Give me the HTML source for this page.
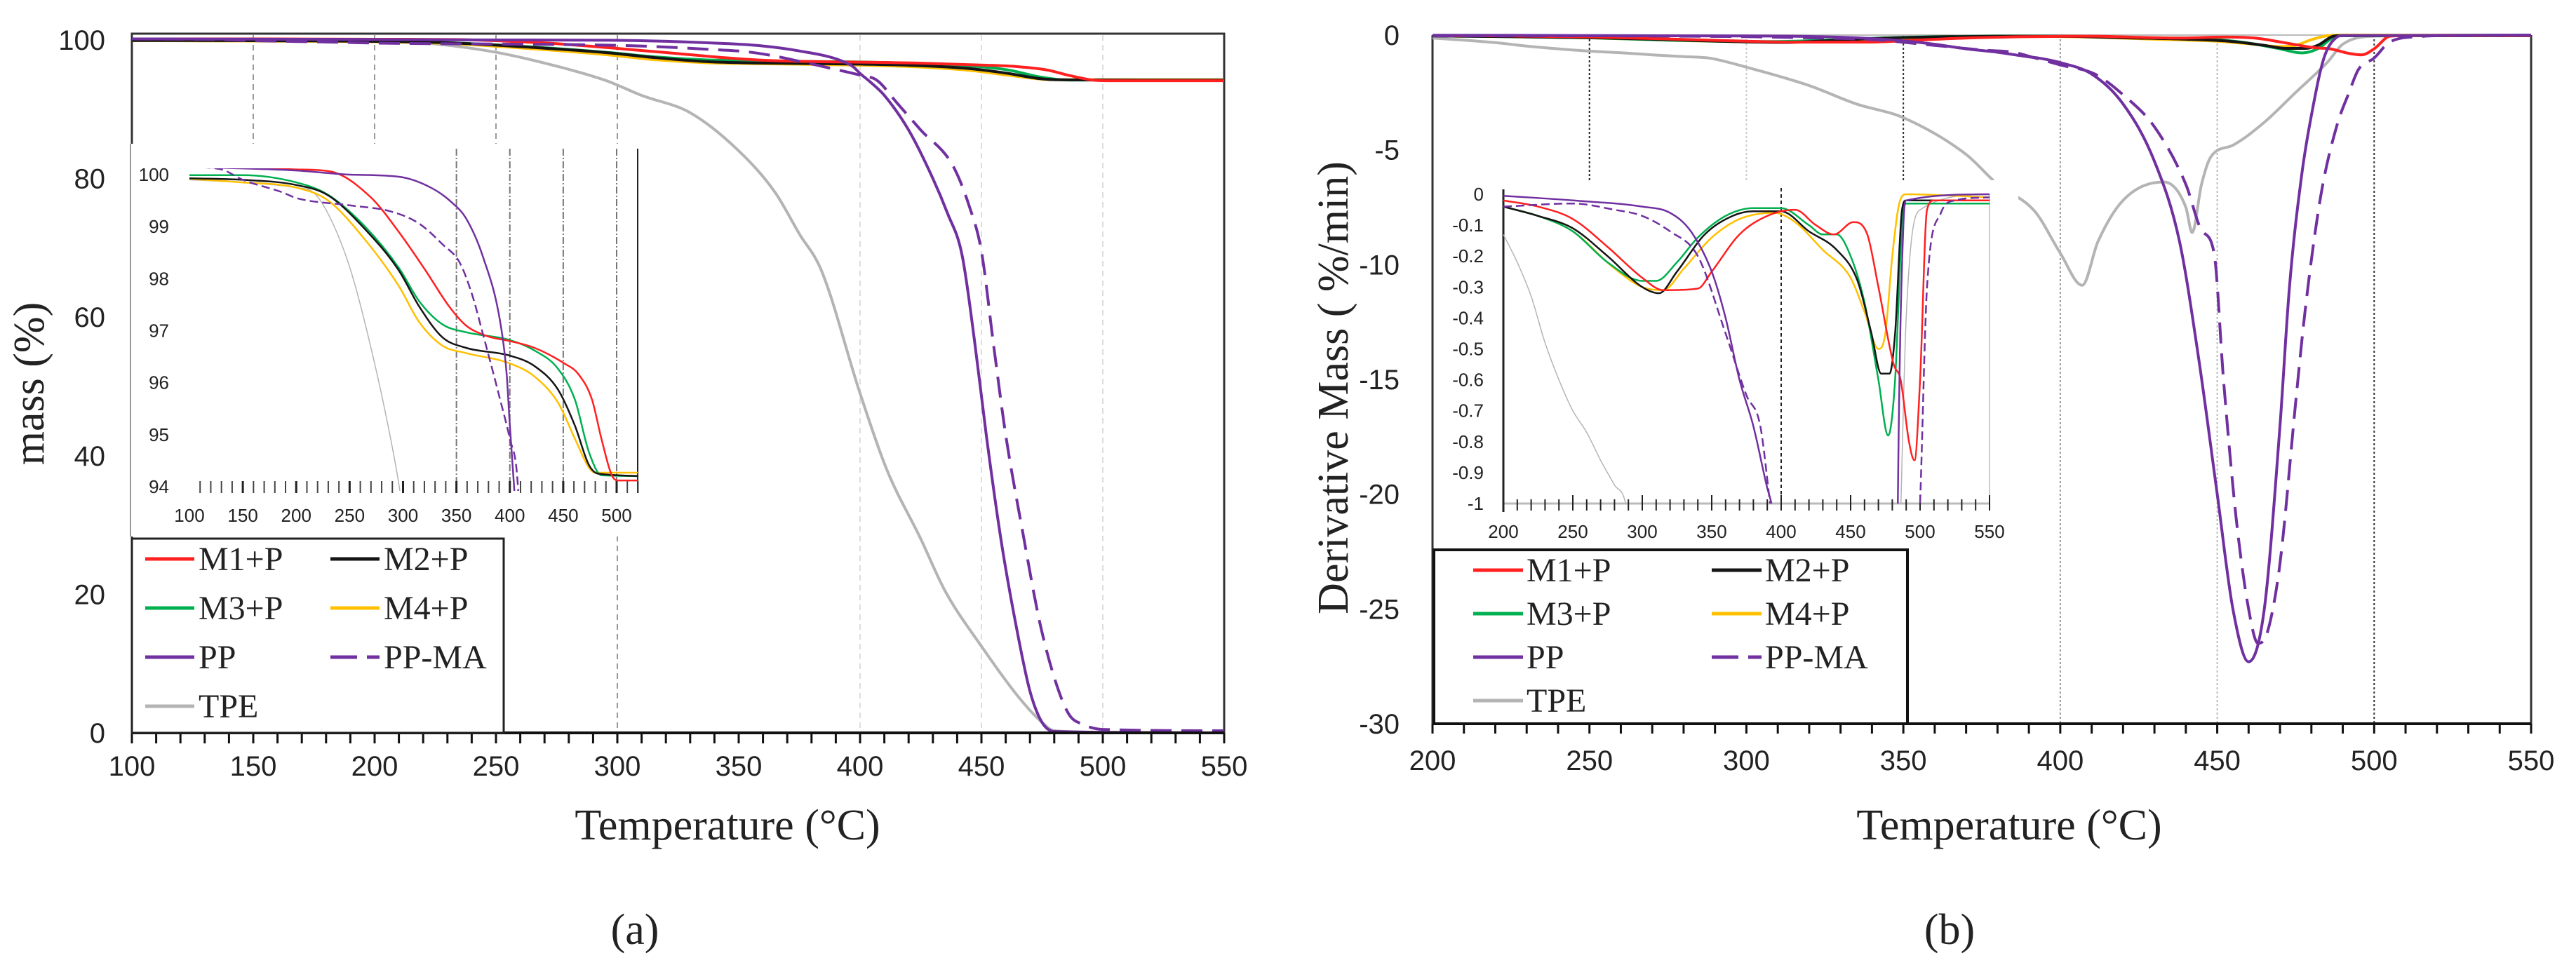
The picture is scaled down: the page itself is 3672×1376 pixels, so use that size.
<!DOCTYPE html>
<html><head><meta charset="utf-8"><style>
html,body{margin:0;padding:0;background:#fff;width:3672px;height:1376px;overflow:hidden;}
svg{display:block;overflow:hidden;}
text{font-family:"Liberation Sans",sans-serif;fill:#222;}
.serif{font-family:"Liberation Serif",serif;}
</style></head><body>
<svg id="fig" xmlns="http://www.w3.org/2000/svg" width="3672" height="1376" viewBox="0 0 3672 1376">
<defs>
<clipPath id="clipA"><rect x="188" y="48" width="1557" height="997"/></clipPath>
<clipPath id="clipAi"><rect x="186" y="240" width="723" height="460"/></clipPath>
<clipPath id="clipB"><rect x="2042" y="40" width="1566" height="992"/></clipPath>
<clipPath id="clipBi"><rect x="2143" y="268" width="694" height="450"/></clipPath>
</defs>
<g id="layer"></g>
</svg>
<script>
// ---- Data: TGA mass (%) ----
const tgaM1T=[100,150,200,232,270,296,321,343,359,378,400,423,451,464,477,486,496,502,550];
const tgaM1V=[100.15,100.15,100.1,100.06,99.56,98.9,98.16,97.47,97.1,96.9,96.8,96.67,96.37,96.17,95.67,94.9,94.2,94.12,94.12];
const tgaM2T=[100,150,200,230,264,296,315,337,359,400,423,445,461,474,483,550];
const tgaM2V=[99.93,99.9,99.8,99.6,98.96,98.16,97.47,96.87,96.67,96.52,96.32,95.87,95.17,94.42,94.25,94.2];
const tgaM3T=[100,150,200,230,264,296,315,337,359,400,423,445,461,474,486,550];
const tgaM3V=[99.99,99.99,99.85,99.61,99.01,98.21,97.57,97.12,96.97,96.82,96.62,96.27,95.67,94.67,94.22,94.2];
const tgaM4T=[100,150,200,230,264,296,315,337,359,400,423,445,461,474,480,550];
const tgaM4V=[99.92,99.85,99.75,99.5,98.76,97.86,97.17,96.71,96.57,96.37,96.12,95.62,94.92,94.37,94.27,94.27];
const tgaPPT=[100,200,250,296,327,346,359,375,391,397,400,404,410,420,430,436,442,447,452,458,464,470,475,480,550];
const tgaPPV=[100.15,100.08,100,99.96,99.74,99.46,99.16,98.41,97.17,96.17,95.17,94,92,87,80,75,69,57,43,28,16,6,1.5,0.2,0];
const tgaPPMAT=[100,130,150,187,200,250,289,315,337,353,365,375,391,400,407,415,425,438,445,450,455,460,467,474,480,486,492,500,550];
const tgaPPMAV=[100.15,100.1,99.9,99.66,99.55,99.41,99.29,99.06,98.66,98.31,97.67,96.92,95.67,94.92,94.17,91,87,82,76,69.5,56,43,29,16,8,2.7,1.2,0.5,0.3];
const tgaTPET=[100,150,200,216,232,251,270,286,296,310,330,350,365,375,384,400,411,425,435,450,465,475,480,500,550];
const tgaTPEV=[99.9,99.85,99.75,99.66,99.16,98.16,96.67,95.17,94.06,92,89.5,84,78,72,66.8,49,38,28,20.5,12.5,5.3,1.5,0.3,0.1,0];
// ---- Data: DTG derivative mass (%/min) ----
const dtgM1T=[200,225,250,275,300,315,340,350,370,390,410,425,438,452,462,470,481,486,492,496,500,505,510,550];
const dtgM1V=[-0.02,-0.04,-0.08,-0.17,-0.27,-0.31,-0.305,-0.25,-0.13,-0.07,-0.05,-0.1,-0.13,-0.09,-0.13,-0.3,-0.55,-0.6,-0.8,-0.86,-0.6,-0.05,-0.02,-0.02];
const dtgM2T=[200,225,250,275,300,312,325,345,365,380,400,420,440,455,465,472,478,482,487,490,550];
const dtgM2V=[-0.04,-0.07,-0.11,-0.2,-0.3,-0.32,-0.25,-0.13,-0.07,-0.055,-0.055,-0.12,-0.18,-0.28,-0.45,-0.58,-0.58,-0.45,-0.05,-0.02,-0.02];
const dtgM3T=[200,225,250,275,300,310,325,340,360,380,400,420,430,440,450,460,470,477,482,487,490,550];
const dtgM3V=[-0.04,-0.07,-0.12,-0.22,-0.28,-0.28,-0.22,-0.14,-0.07,-0.045,-0.045,-0.1,-0.13,-0.13,-0.2,-0.35,-0.6,-0.78,-0.6,-0.1,-0.03,-0.03];
const dtgM4T=[200,225,250,280,300,315,330,350,370,395,410,430,450,460,470,475,480,485,490,550];
const dtgM4V=[-0.04,-0.07,-0.12,-0.24,-0.3,-0.31,-0.24,-0.14,-0.08,-0.06,-0.09,-0.18,-0.27,-0.38,-0.5,-0.45,-0.2,-0.03,0,-0.01];
const dtgPPT=[200,250,300,320,335,350,360,370,380,390,393,400,410,420,430,438,444,450,455,460,465,470,473,477,480,484,488,490,550];
const dtgPPV=[-0.005,-0.02,-0.04,-0.06,-0.12,-0.25,-0.4,-0.6,-0.75,-0.95,-1.0,-1.2,-1.7,-3,-5.5,-9,-14,-20,-25,-27.3,-25,-17,-11,-6,-3.5,-1,-0.1,-0.02,0];
const dtgPPMAT=[200,250,280,300,320,340,360,375,385,392,400,411,420,430,440,445,449,452,456,460,463,466,470,475,478,483,488,492,495,500,505,515,525,550];
const dtgPPMAV=[-0.04,-0.03,-0.05,-0.07,-0.12,-0.2,-0.45,-0.65,-0.75,-1.0,-1.3,-1.7,-2.6,-4,-6.5,-8.5,-9.5,-15,-21,-25,-26.5,-26,-23,-16,-12,-7,-4,-2.5,-1.5,-1.0,-0.3,-0.06,-0.02,-0.01];
const dtgTPET=[200,210,220,230,240,250,260,270,280,288,300,320,335,350,370,380,392,400,407,412,420,433,440,442,445,448,455,465,475,485,490,500,550];
const dtgTPEV=[-0.13,-0.22,-0.33,-0.48,-0.6,-0.7,-0.77,-0.86,-0.94,-1.0,-1.4,-2.2,-3.0,-3.6,-5.2,-6.5,-7.7,-9.5,-10.9,-9,-7.2,-6.4,-7.5,-8.6,-6.5,-5.3,-4.8,-3.8,-2.5,-1.2,-0.4,-0.05,0];
// tick labels
const tgaYTicks=[0,20,40,60,80,100];
const tgaXTicks=[100,150,200,250,300,350,400,450,500,550];
const tgaInsetYTicks=[94,95,96,97,98,99,100];
const tgaInsetXTicks=[100,150,200,250,300,350,400,450,500];
const dtgYTicks=[0,-5,-10,-15,-20,-25,-30];
const dtgXTicks=[200,250,300,350,400,450,500,550];
const dtgInsetYTicks=[0,-0.1,-0.2,-0.3,-0.4,-0.5,-0.6,-0.7,-0.8,-0.9,-1];
const dtgInsetXTicks=[200,250,300,350,400,450,500,550];

const NS='http://www.w3.org/2000/svg';
const root=document.getElementById('layer');
function mk(tag,attrs,parent){const e=document.createElementNS(NS,tag);for(const k in attrs)e.setAttribute(k,attrs[k]);(parent||root).appendChild(e);return e;}
function lin(d0,d1,r0,r1){return v=>r0+(v-d0)/(d1-d0)*(r1-r0);}
const axA=lin(100,550,188,1745), ayA=lin(0,100,1045,57);
const axAi=lin(100,500,270,879), ayAi=lin(94,100,694,249);
const axB=lin(200,550,2042,3608), ayB=lin(0,-30,50,1032);
const axBi=lin(200,550,2143,2836), ayBi=lin(0,-1,277,718);
const COL={M1:'#ff2020',M2:'#151515',M3:'#00b050',M4:'#ffc000',PP:'#7030a0',PPMA:'#7030a0',TPE:'#b4b4b4'};
function pathD(T,V,sx,sy){
 const X=T.map(sx),Y=V.map(sy),n=X.length;
 const d=[],m=[];
 for(let i=0;i<n-1;i++)d.push((Y[i+1]-Y[i])/(X[i+1]-X[i]));
 m[0]=d[0];m[n-1]=d[n-2];
 for(let i=1;i<n-1;i++){m[i]=(d[i-1]*d[i]<=0)?0:(d[i-1]+d[i])/2;}
 for(let i=0;i<n-1;i++){if(d[i]===0){m[i]=0;m[i+1]=0;continue;}const a=m[i]/d[i],b=m[i+1]/d[i],s=a*a+b*b;if(s>9){const t=3/Math.sqrt(s);m[i]=t*a*d[i];m[i+1]=t*b*d[i];}}
 let p='M'+X[0].toFixed(1)+' '+Y[0].toFixed(1);
 for(let i=0;i<n-1;i++){const h=(X[i+1]-X[i])/3;
  p+=' C'+(X[i]+h).toFixed(1)+' '+(Y[i]+m[i]*h).toFixed(1)+' '+(X[i+1]-h).toFixed(1)+' '+(Y[i+1]-m[i+1]*h).toFixed(1)+' '+X[i+1].toFixed(1)+' '+Y[i+1].toFixed(1);}
 return p;}
function series(g,T,V,sx,sy,color,w,dash){const p=mk('path',{d:pathD(T,V,sx,sy),fill:'none',stroke:color,'stroke-width':w,'stroke-linejoin':'round'},g);if(dash)p.setAttribute('stroke-dasharray',dash);return p;}
function txt(x,y,s,size,anchor,cls,parent){const t=mk('text',{x:x,y:y,'font-size':size,'text-anchor':anchor||'middle'},parent);if(cls)t.setAttribute('class',cls);t.textContent=s;return t;}

// ================= Panel A =================
const gA=mk('g',{});


[150,200,250].forEach(t=>{const l=mk('line',{x1:axA(t),x2:axA(t),y1:50,y2:205,stroke:'#999','stroke-width':2,'stroke-dasharray':'8 6'},gA);});
[300].forEach(t=>{const l=mk('line',{x1:axA(t),x2:axA(t),y1:50,y2:1045,stroke:'#999','stroke-width':2,'stroke-dasharray':'8 6'},gA);});
[400,450,500].forEach(t=>{const l=mk('line',{x1:axA(t),x2:axA(t),y1:50,y2:1045,stroke:'#ddd','stroke-width':2,'stroke-dasharray':'8 6'},gA);});
const frA=mk('path',{d:'M188 1045 L188 48 L1745 48 L1745 1045',fill:'none',stroke:'#333','stroke-width':3},gA);

const gAs=mk('g',{'clip-path':'url(#clipA)'},gA);

const tgaSets=[[tgaTPET,tgaTPEV,'TPE',''],[tgaM4T,tgaM4V,'M4',''],[tgaM3T,tgaM3V,'M3',''],[tgaM2T,tgaM2V,'M2',''],[tgaM1T,tgaM1V,'M1',''],[tgaPPMAT,tgaPPMAV,'PPMA','30 14'],[tgaPPT,tgaPPV,'PP','']];
tgaSets.forEach(s=>{const p=series(gAs,s[0],s[1],axA,ayA,COL[s[2]],4,s[3]);});
const xaA=mk('line',{x1:188,x2:1745,y1:1045,y2:1045,stroke:'#111','stroke-width':4},gA);

for(let t=100;t<=550;t+=10){const l=mk('line',{x1:axA(t),x2:axA(t),y1:1045,y2:1060,stroke:'#111','stroke-width':3},gA);}
tgaXTicks.forEach(t=>{const e=txt(axA(t),1106,String(t),40,'middle','',gA);});
tgaYTicks.forEach(v=>{const e=txt(150,ayA(v)+14,String(v),40,'end','',gA);});
const gAi=mk('g',{},gA);

mk('rect',{x:186,y:205,width:725,height:560,fill:'#fff'},gAi);
mk('line',{x1:186,x2:186,y1:205,y2:765,stroke:'#999','stroke-width':2},gAi);
[350,400,450,500].forEach(t=>{const l=mk('line',{x1:axAi(t),x2:axAi(t),y1:212,y2:703,stroke:'#777','stroke-width':2,'stroke-dasharray':'10 3 2 3'},gAi);});
mk('line',{x1:909,x2:909,y1:212,y2:703,stroke:'#222','stroke-width':2},gAi);
for(let t=110;t<=520;t+=10){const l=mk('line',{x1:axAi(t),x2:axAi(t),y1:686,y2:703,stroke:t%50?'#444':'#222','stroke-width':t%50?2:3},gAi);}
const gAis=mk('g',{'clip-path':'url(#clipAi)'},gAi);
tgaSets.forEach(s=>{const p=series(gAis,s[0],s[1],axAi,ayAi,COL[s[2]],s[2]==='TPE'?1.5:2.5,s[3]?'12 6':'');});
tgaInsetYTicks.forEach(v=>{const e=txt(241,ayAi(v)+9,String(v),26,'end','',gAi);});
tgaInsetXTicks.forEach(t=>{const e=txt(axAi(t),744,String(t),26,'middle','',gAi);});
const lgA=mk('g',{},gA);

mk('rect',{x:188,y:768,width:530,height:277,fill:'#fff',stroke:'#222','stroke-width':3},lgA);
const legNames=['M1+P','M2+P','M3+P','M4+P','PP','PP-MA','TPE'];
const legKeys=['M1','M2','M3','M4','PP','PPMA','TPE'];
legNames.forEach((n,i)=>{const c=i%2,r=Math.floor(i/2);const y=797+r*70;const x0=c?471:207;
 const g=mk('g',{},lgA);
 mk('line',{x1:x0,x2:x0+70,y1:y,y2:y,stroke:COL[legKeys[i]],'stroke-width':5,'stroke-dasharray':legKeys[i]==='PPMA'?'38 14':''},g);
 txt(x0+76,y+16,n,48,'start','serif',g);});
const yA=txt(0,0,'mass (%)',62,'middle','serif',gA);yA.setAttribute('transform','translate(62,547) rotate(-90)');

const xA=txt(1037,1197,'Temperature (°C)',62,'middle','serif',gA);
const capA=txt(905,1346,'(a)',62,'middle','serif',gA);

// ================= Panel B =================
const gB=mk('g',{});

[[250,'#222'],[300,'#ccc'],[350,'#333'],[400,'#999'],[450,'#bbb'],[500,'#333']].forEach(a=>{const l=mk('line',{x1:axB(a[0]),x2:axB(a[0]),y1:50,y2:1032,stroke:a[1],'stroke-width':2,'stroke-dasharray':'3 3'},gB);});
mk('line',{x1:2042,x2:3608,y1:50,y2:50,stroke:'#bbb','stroke-width':2},gB);
const frB=mk('path',{d:'M2042 50 L2042 1032 M3608 50 L3608 1032',fill:'none',stroke:'#333','stroke-width':3},gB);

const gBs=mk('g',{'clip-path':'url(#clipB)'},gB);

const dtgSets=[[dtgTPET,dtgTPEV,'TPE',''],[dtgM4T,dtgM4V,'M4',''],[dtgM3T,dtgM3V,'M3',''],[dtgM2T,dtgM2V,'M2',''],[dtgM1T,dtgM1V,'M1',''],[dtgPPMAT,dtgPPMAV,'PPMA','30 14'],[dtgPPT,dtgPPV,'PP','']];
dtgSets.forEach(s=>{const p=series(gBs,s[0],s[1],axB,ayB,COL[s[2]],4,s[3]);});
const xaB=mk('line',{x1:2042,x2:3608,y1:1032,y2:1032,stroke:'#111','stroke-width':4},gB);

for(let t=200;t<=550;t+=10){const l=mk('line',{x1:axB(t),x2:axB(t),y1:1032,y2:1046,stroke:'#111','stroke-width':3},gB);}
dtgXTicks.forEach(t=>{const e=txt(axB(t),1098,String(t),40,'middle','',gB);});
dtgYTicks.forEach(v=>{const e=txt(1995,ayB(v)+14,String(v),40,'end','',gB);});
const gBi=mk('g',{},gB);

mk('rect',{x:2049,y:257,width:828,height:527,fill:'#fff'},gBi);
mk('line',{x1:axBi(400),x2:axBi(400),y1:268,y2:725,stroke:'#222','stroke-width':2,'stroke-dasharray':'5 4'},gBi);
mk('line',{x1:2143,x2:2836,y1:718,y2:718,stroke:'#bbb','stroke-width':3},gBi);
mk('line',{x1:2836,x2:2836,y1:277,y2:718,stroke:'#ccc','stroke-width':2},gBi);
mk('line',{x1:2143,x2:2143,y1:270,y2:730,stroke:'#222','stroke-width':3},gBi);
for(let t=200;t<=550;t+=10){const l=mk('line',{x1:axBi(t),x2:axBi(t),y1:t%50?712:706,y2:728,stroke:'#222','stroke-width':2},gBi);}
const gBis=mk('g',{'clip-path':'url(#clipBi)'},gBi);
dtgSets.forEach(s=>{const p=series(gBis,s[0],s[1],axBi,ayBi,COL[s[2]],s[2]==='TPE'?1.5:2.5,s[3]?'12 6':'');});
dtgInsetYTicks.forEach(v=>{const e=txt(2115,ayBi(v)+9,String(v),26,'end','',gBi);});
dtgInsetXTicks.forEach(t=>{const e=txt(axBi(t),767,String(t),26,'middle','',gBi);});
const lgB=mk('g',{},gB);

mk('rect',{x:2044,y:784,width:675,height:248,fill:'#fff',stroke:'#111','stroke-width':4},lgB);
legNames.forEach((n,i)=>{const c=i%2,r=Math.floor(i/2);const y=813+r*62;const x0=c?2440:2100;
 const g=mk('g',{},lgB);
 mk('line',{x1:x0,x2:x0+71,y1:y,y2:y,stroke:COL[legKeys[i]],'stroke-width':5,'stroke-dasharray':legKeys[i]==='PPMA'?'38 14':''},g);
 txt(x0+76,y+16,n,48,'start','serif',g);});
const yB=txt(0,0,'Derivative Mass ( %/min)',62,'middle','serif',gB);yB.setAttribute('transform','translate(1921,553) rotate(-90)');

const xB=txt(2864,1197,'Temperature (°C)',62,'middle','serif',gB);
const capB=txt(2779,1346,'(b)',62,'middle','serif',gB);
</script>
</body></html>
